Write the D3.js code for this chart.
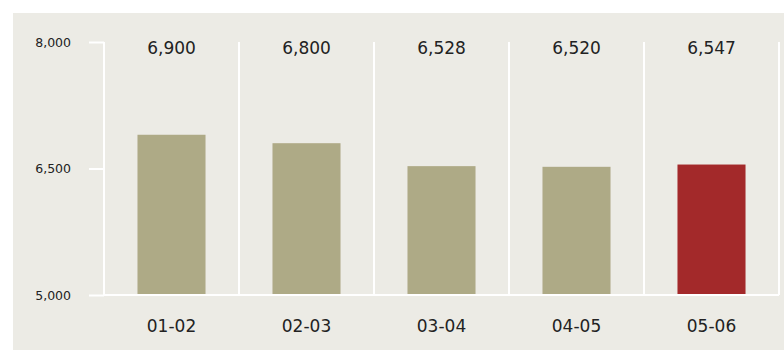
<!DOCTYPE html>
<html>
<head>
<meta charset="utf-8">
<script src="https://cdn.jsdelivr.net/npm/d3@7"></script>
<style>
  html, body { margin: 0; padding: 0; background: #ffffff; }
  svg { display: block; }
  text { font-family: "DejaVu Sans", sans-serif; fill: #222; }
</style>
</head>
<body>
<svg id="chart" width="784" height="351"></svg>
<script>
const categories = ["01-02", "02-03", "03-04", "04-05", "05-06"];
const values = [6900, 6800, 6528, 6520, 6547];
const valueLabels = ["6,900", "6,800", "6,528", "6,520", "6,547"];
const highlight = [false, false, false, false, true];
const yTicks = [5000, 6500, 8000];
const yTickLabels = ["5,000", "6,500", "8,000"];

(function () {
const svg = d3.select("#chart");
const W = 784, H = 351;
const mLeft = 104, mRight = 779, mTop = 42, mBottom = 295;

svg.append("rect").attr("x", 13).attr("y", 13).attr("width", W - 13).attr("height", 337)
  .attr("fill", "#ECEBE5");

const x = d3.scaleBand().domain(categories).range([mLeft, mRight]).paddingInner(0).paddingOuter(0);
const y = d3.scaleLinear().domain([5000, 8000]).range([mBottom, mTop]);

// vertical separators
const seps = categories.map(c => x(c)).concat([mRight]);
svg.append("g").selectAll("line").data(seps).join("line")
  .attr("x1", d => d).attr("x2", d => d)
  .attr("y1", mTop).attr("y2", mBottom)
  .attr("stroke", "#ffffff").attr("stroke-width", 2);

// bars
const bw = x.bandwidth() * 0.504;
svg.append("g").selectAll("rect").data(values).join("rect")
  .attr("x", (d, i) => x(categories[i]) + (x.bandwidth() - bw) / 2)
  .attr("width", bw)
  .attr("y", d => y(d))
  .attr("height", d => y(5000) - y(d))
  .attr("fill", (d, i) => highlight[i] ? "#A3292A" : "#AEAA86");

// baseline
svg.append("line").attr("x1", mLeft).attr("x2", mRight).attr("y1", mBottom).attr("y2", mBottom)
  .attr("stroke", "#ffffff").attr("stroke-width", 2);

// y axis ticks
const yAxis = d3.axisLeft(y).tickValues(yTicks).tickSize(15)
  .tickFormat((d, i) => yTickLabels[i]).tickPadding(18);
const ga = svg.append("g").attr("transform", `translate(${mLeft},0)`).call(yAxis);
ga.select(".domain").remove();
ga.selectAll(".tick line").attr("stroke", "#ffffff").attr("stroke-width", 2);
ga.selectAll(".tick text").attr("font-size", 12.5).attr("font-family", "DejaVu Sans, sans-serif")
  .attr("fill", "#222").attr("dy", "0.35em");

// value labels
svg.append("g").selectAll("text").data(valueLabels).join("text")
  .attr("x", (d, i) => x(categories[i]) + x.bandwidth() / 2)
  .attr("y", 54)
  .attr("text-anchor", "middle")
  .attr("font-size", 17)
  .text(d => d);

// category labels
svg.append("g").selectAll("text").data(categories).join("text")
  .attr("x", d => x(d) + x.bandwidth() / 2)
  .attr("y", 332)
  .attr("text-anchor", "middle")
  .attr("font-size", 17)
  .text(d => d);
})();
</script>
</body>
</html>
